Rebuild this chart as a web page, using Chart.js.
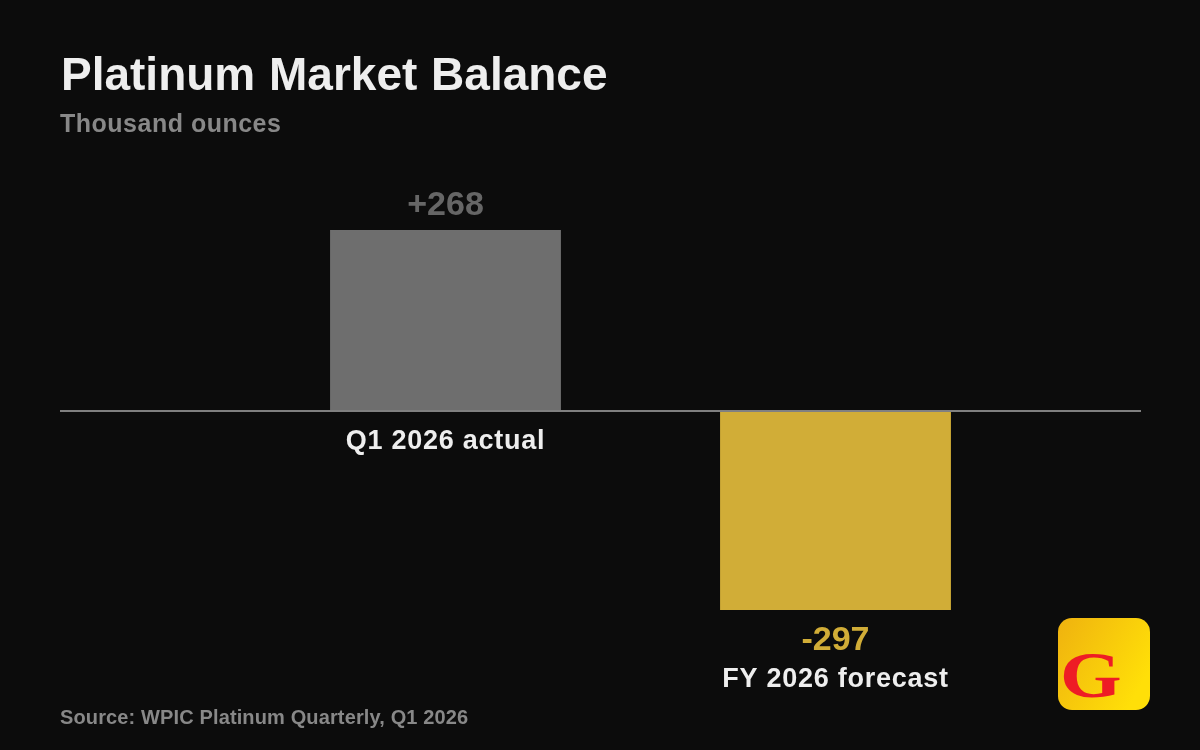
<!DOCTYPE html>
<html>
<head>
<meta charset="utf-8">
<title>Platinum Market Balance</title>
<script src="https://cdn.jsdelivr.net/npm/chart.js@4"></script>
<style>
    html, body { margin: 0; padding: 0; background: #0c0c0c; }
    #wrap { position: relative; width: 1200px; height: 750px; }
</style>
</head>
<body>
<div id="wrap"><canvas id="balanceChart" width="1200" height="750"></canvas></div>
<script>
const categories = ['Q1 2026 actual', 'FY 2026 forecast'];
const balanceValues = [268, -297];
const valueLabels = ['+268', '-297'];
const barColors = ['#6e6e6e', '#d1ad37'];
const valueColors = ['#666666', '#d1ad37'];

const SANS = '"Liberation Sans", Arial, sans-serif';

// Titles, source line and the logo badge
const textPlugin = {
    id: 'pageText',
    afterDraw(chart) {
        const ctx = chart.ctx;
        ctx.save();
        ctx.textBaseline = 'alphabetic';
        ctx.textAlign = 'left';

        ctx.fillStyle = '#eeeeee';
        ctx.font = `bold 46px ${SANS}`;
        ctx.wordSpacing = '1px';
        ctx.fillText('Platinum Market Balance', 61, 90);
        ctx.wordSpacing = '0px';

        ctx.fillStyle = '#888888';
        ctx.font = `bold 25px ${SANS}`;
        ctx.letterSpacing = '0.5px';
        ctx.fillText('Thousand ounces', 60, 132);

        ctx.font = `bold 20px ${SANS}`;
        ctx.letterSpacing = '0.13px';
        ctx.fillText('Source: WPIC Platinum Quarterly, Q1 2026', 60, 724);
        ctx.letterSpacing = '0px';

        // badge
        const grad = ctx.createLinearGradient(1058, 618, 1150, 670);
        grad.addColorStop(0, '#efb20f');
        grad.addColorStop(1, '#ffdf08');
        ctx.fillStyle = grad;
        ctx.beginPath();
        ctx.roundRect(1058, 618, 92, 92, 14);
        ctx.fill();

        ctx.fillStyle = '#ee1c25';
        ctx.font = '700 66px "Liberation Serif", serif';
        ctx.save();
        ctx.translate(1060, 697);
        ctx.scale(1.2, 1);
        ctx.fillText('G', 0, 0);
        ctx.restore();
        ctx.restore();
    }
};

// Zero line across the full width, value and category labels beside each bar
const barLabelPlugin = {
    id: 'barLabels',
    afterDatasetsDraw(chart) {
        const ctx = chart.ctx;
        const yScale = chart.scales.y;
        const xScale = chart.scales.x;
        const zero = yScale.getPixelForValue(0);

        ctx.save();
        ctx.fillStyle = '#808080';
        ctx.fillRect(60, Math.floor(zero), 1081, 2);

        ctx.textAlign = 'center';
        ctx.textBaseline = 'alphabetic';
        balanceValues.forEach((value, i) => {
            const x = xScale.getPixelForValue(i);
            const end = yScale.getPixelForValue(value);
            const valueY = value >= 0 ? end - 15 : end + 40;
            const labelY = value >= 0 ? zero + 39 : end + 77;

            ctx.fillStyle = valueColors[i];
            ctx.font = `bold 34px ${SANS}`;
            ctx.letterSpacing = '0px';
            ctx.fillText(valueLabels[i], x, valueY);

            ctx.fillStyle = '#eeeeee';
            ctx.font = `bold 27px ${SANS}`;
            ctx.letterSpacing = '0.75px';
            ctx.fillText(categories[i], x, labelY);
        });
        ctx.restore();
    }
};

new Chart(document.getElementById('balanceChart').getContext('2d'), {
    type: 'bar',
    data: {
        labels: categories,
        datasets: [{
            data: balanceValues,
            backgroundColor: barColors,
            borderWidth: 0,
            barPercentage: 0.592,
            categoryPercentage: 1
        }]
    },
    options: {
        responsive: false,
        animation: false,
        layout: { padding: { left: 250.5, right: 169.5, top: 141.22, bottom: 70.72 } },
        plugins: { legend: { display: false }, tooltip: { enabled: false } },
        scales: {
            x: { display: false },
            y: { display: false, min: -400, max: 400 }
        }
    },
    plugins: [textPlugin, barLabelPlugin]
});
</script>
</body>
</html>
